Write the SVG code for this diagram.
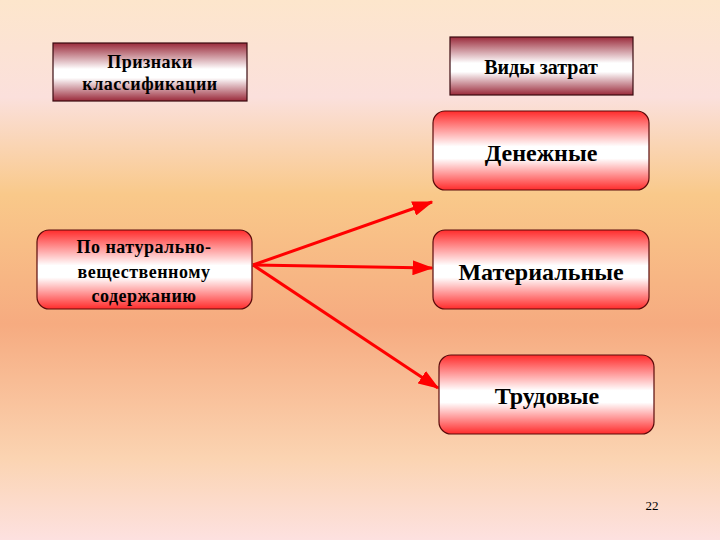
<svg xmlns="http://www.w3.org/2000/svg" width="720" height="540" viewBox="0 0 720 540">
<defs>
<linearGradient id="bg" x1="0" y1="0" x2="0" y2="1">
<stop offset="0" stop-color="#fde6cc"/>
<stop offset="0.18" stop-color="#fbe0dc"/>
<stop offset="0.36" stop-color="#f9c98a"/>
<stop offset="0.6" stop-color="#f6ab80"/>
<stop offset="0.85" stop-color="#fbd4b2"/>
<stop offset="1" stop-color="#fde1e0"/>
</linearGradient>
<linearGradient id="red" x1="0" y1="0" x2="0" y2="1">
<stop offset="0" stop-color="#ff2b2b"/>
<stop offset="0.45" stop-color="#ffffff"/>
<stop offset="0.6" stop-color="#ffffff"/>
<stop offset="1" stop-color="#ff2b2b"/>
</linearGradient>
<linearGradient id="mar" x1="0" y1="0" x2="0" y2="1">
<stop offset="0" stop-color="#9a2a3a"/>
<stop offset="0.45" stop-color="#ffffff"/>
<stop offset="0.6" stop-color="#ffffff"/>
<stop offset="1" stop-color="#9a2a3a"/>
</linearGradient>
<marker id="ah" markerWidth="7" markerHeight="5" refX="6.5" refY="2.5" orient="auto" markerUnits="strokeWidth">
<path d="M0,0 L7,2.5 L0,5 z" fill="#ff0000"/>
</marker>
<style>
.rbox{fill:url(#red);stroke:#5a0a0a;stroke-width:1.2}
.mbox{fill:url(#mar);stroke:#3a0a10;stroke-width:1.2}
.t{font-family:"Liberation Serif","Times New Roman",serif;font-weight:bold;fill:#000;text-anchor:middle}
.c{stroke:#ff0000;stroke-width:3;fill:none;marker-end:url(#ah)}
</style>
</defs>
<rect x="0" y="0" width="720" height="540" fill="url(#bg)"/>
<g id="connectors">
<line class="c" x1="253" y1="265" x2="432" y2="202"/>
<line class="c" x1="253" y1="265" x2="432" y2="268"/>
<line class="c" x1="253" y1="265" x2="438" y2="388"/>
</g>
<g id="n-priznaki">
<rect class="mbox" x="53" y="43" width="194" height="58"/>
<text class="t" x="150" y="68" font-size="18" letter-spacing="0.5">Признаки</text>
<text class="t" x="150" y="90" font-size="18" letter-spacing="0.5">классификации</text>
</g>
<g id="n-vidy">
<rect class="mbox" x="450" y="37" width="183" height="58"/>
<text class="t" x="541" y="74" font-size="20">Виды затрат</text>
</g>
<g id="n-left">
<rect class="rbox" x="37" y="230" width="215" height="79" rx="12"/>
<text class="t" x="144" y="253" font-size="18" letter-spacing="0.5">По натурально-</text>
<text class="t" x="144" y="278" font-size="18" letter-spacing="0.5">вещественному</text>
<text class="t" x="144" y="302" font-size="18" letter-spacing="0.5">содержанию</text>
</g>
<g id="n-den">
<rect class="rbox" x="433" y="111" width="216" height="79" rx="12"/>
<text class="t" x="541" y="161" font-size="24">Денежные</text>
</g>
<g id="n-mat">
<rect class="rbox" x="433" y="230" width="216" height="79" rx="12"/>
<text class="t" x="541" y="280" font-size="24">Материальные</text>
</g>
<g id="n-trud">
<rect class="rbox" x="439" y="355" width="215" height="79" rx="12"/>
<text class="t" x="547" y="404" font-size="24">Трудовые</text>
</g>
<text x="652" y="510" font-family="Liberation Serif, serif" font-size="13" fill="#000" text-anchor="middle">22</text>
</svg>
